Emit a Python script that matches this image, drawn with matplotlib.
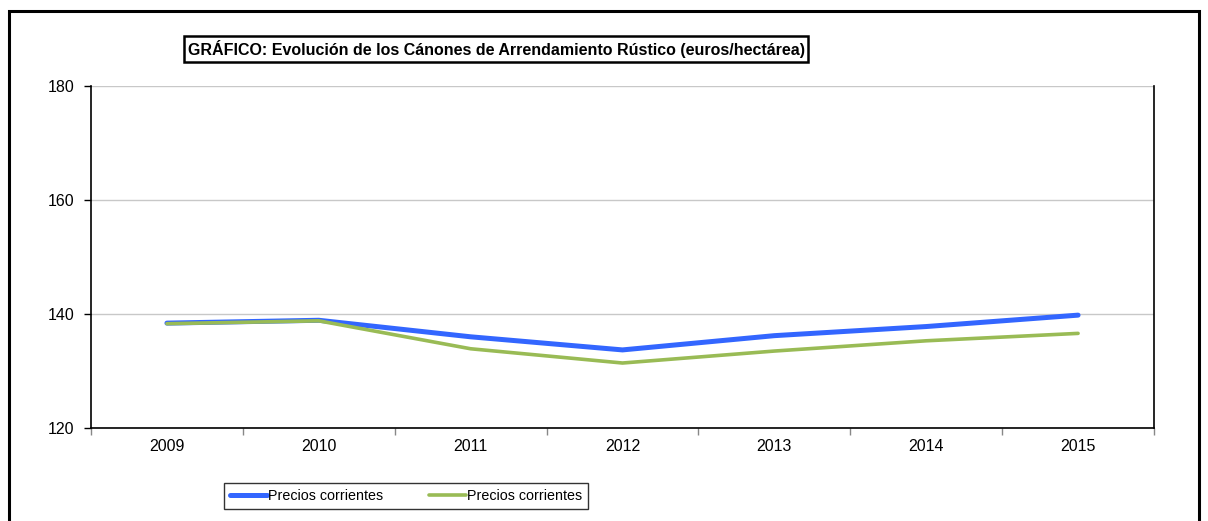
import numpy as np
import matplotlib.pyplot as plt
from matplotlib.patches import Rectangle

plt.rcParams['font.family'] = ['Liberation Sans', 'DejaVu Sans']

# Data
years = ['2009', '2010', '2011', '2012', '2013', '2014', '2015']
corrientes_azul = [138.4, 138.9, 136.0, 133.7, 136.2, 137.8, 139.8]
corrientes_verde = [138.3, 138.8, 133.9, 131.4, 133.5, 135.3, 136.6]

W, H = 1208, 521
fig = plt.figure(figsize=(W / 100, H / 100), dpi=100)

# outer frame (bottom runs off the image)
fig.patches.append(Rectangle((9 / W, -0.1), (1199 - 9) / W, 1 - 11 / H + 0.1,
                             transform=fig.transFigure, fill=False,
                             edgecolor='black', linewidth=2.2, zorder=0))

ax = fig.add_axes([91 / W, 1 - 428 / H, (1154 - 91) / W, (428 - 86) / H])

x = np.arange(len(years))
ax.plot(x, corrientes_azul, color='#3366ff', linewidth=3.6, solid_capstyle='round',
        label='Precios corrientes', zorder=3)
ax.plot(x, corrientes_verde, color='#99bb55', linewidth=2.6, solid_capstyle='round',
        label='Precios corrientes', zorder=4)

ax.set_xlim(-0.5, len(years) - 0.5)
ax.set_ylim(120, 180)
ax.set_yticks([120, 140, 160, 180])
ax.set_xticks(x)
ax.set_xticklabels(years)
ax.set_xticks(np.arange(-0.5, len(years)), minor=True)
ax.tick_params(axis='x', which='major', length=0, pad=8, labelsize=11.5)
ax.tick_params(axis='x', which='minor', length=5, width=1, color='#888888')
ax.tick_params(axis='y', length=5, width=1, pad=7, labelsize=11.5)

ax.grid(axis='y', color='#c8c8c8', linewidth=1)
ax.set_axisbelow(True)
ax.spines['top'].set_visible(False)
for s in ['left', 'right', 'bottom']:
    ax.spines[s].set_linewidth(1.2)
    ax.spines[s].set_color('black')

fig.text(496 / W, 1 - 49 / H,
         'GRÁFICO: Evolución de los Cánones de Arrendamiento Rústico (euros/hectárea)',
         ha='center', va='center', fontsize=11.5, fontweight='bold',
         bbox=dict(boxstyle='square,pad=0.22', facecolor='white', edgecolor='black', linewidth=1.8))

leg = fig.legend(loc='center', bbox_to_anchor=(406 / W, 1 - 496 / H), ncol=2,
                 fontsize=10.3, frameon=True, fancybox=False, handlelength=2.6,
                 handletextpad=0.05, columnspacing=3.2, borderpad=0.4, borderaxespad=0)
leg.get_frame().set_edgecolor('black')
leg.get_frame().set_linewidth(1)

fig.savefig('out.png', dpi=100)
